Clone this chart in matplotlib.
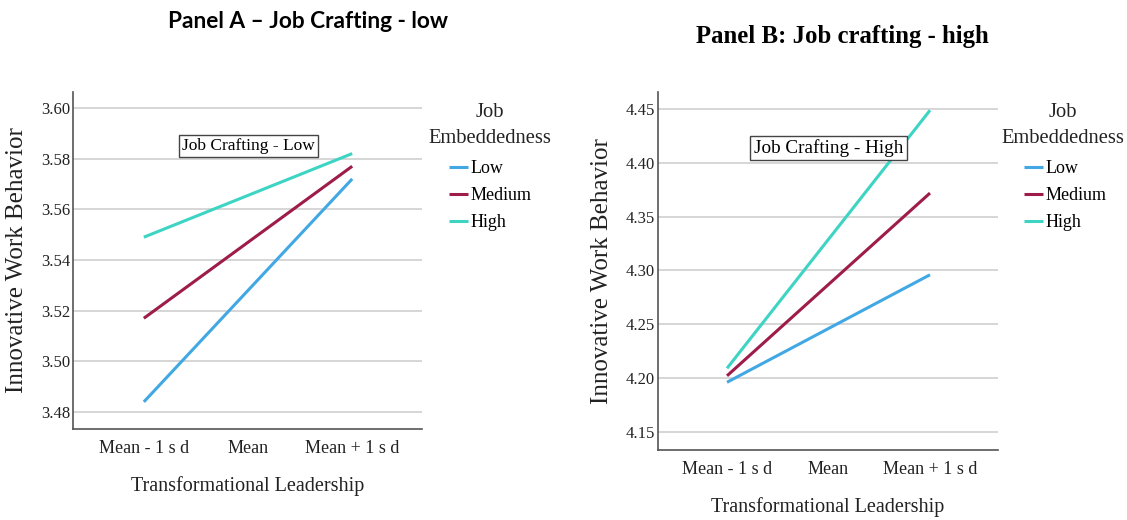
import matplotlib.pyplot as plt

# -----------------------------------------------------------------------------
# Data
x_labels = ['Mean - 1 s d', 'Mean', 'Mean + 1 s d']
groups = ['Low', 'Medium', 'High']

a_low = [3.484, 3.528, 3.572]
a_medium = [3.517, 3.547, 3.577]
a_high = [3.549, 3.5655, 3.582]
a_ticks = [3.48, 3.50, 3.52, 3.54, 3.56, 3.58, 3.60]

b_low = [4.196, 4.246, 4.296]
b_medium = [4.202, 4.287, 4.372]
b_high = [4.209, 4.329, 4.449]
b_ticks = [4.15, 4.20, 4.25, 4.30, 4.35, 4.40, 4.45]

colors = ['#42A8E4', '#9E1C4A', '#3DD4C4']
serif = ['Liberation Serif', 'DejaVu Serif']

W, H = 1127, 520
fig = plt.figure(figsize=(W / 100, H / 100), dpi=100)


def px_axes(left, top, right, bottom):
    return fig.add_axes([left / W, 1 - bottom / H, (right - left) / W, (bottom - top) / H])


def draw_panel(ax, series, ticks, ylim, note, note_y, note_size, title_x, leg_x):
    for vals, name, c in zip(series, groups, colors):
        ax.plot(range(len(x_labels)), vals, color=c, lw=2.2, label=name,
                solid_capstyle='butt')
    ax.set_xlim(-0.68, 2.67)
    ax.set_ylim(*ylim)
    ax.set_yticks(ticks)
    ax.set_yticklabels([f'{t:.2f}' for t in ticks], family=serif, fontsize=12)
    ax.set_xticks(range(len(x_labels)))
    ax.set_xticklabels(x_labels, family=serif, fontsize=13)
    ax.tick_params(length=0, colors='#222222')
    ax.tick_params(axis='x', pad=8)
    ax.tick_params(axis='y', pad=2)
    ax.grid(axis='y', color='#cfcfcf', lw=1.2)
    ax.set_axisbelow(True)
    for s in ['top', 'right']:
        ax.spines[s].set_visible(False)
    for s in ['left', 'bottom']:
        ax.spines[s].set_color('#555555')
        ax.spines[s].set_linewidth(1.2)
    ax.set_xlabel('Transformational Leadership', family=serif, fontsize=14.5,
                  labelpad=14, color='#222222')
    ax.set_ylabel('Innovative Work Behavior', family=serif, fontsize=18,
                  labelpad=9, color='#222222')
    ax.text(1, note_y, note, family=serif, fontsize=note_size, ha='center', va='center',
            bbox=dict(boxstyle='square,pad=0.18', fc='white', ec='#444444', lw=1))

    # legend title drawn on its own so the gap above the entries matches
    fig.text(title_x / W, 1 - 125.5 / H, 'Job\nEmbeddedness', family=serif, fontsize=14.8,
             ha='center', va='center', multialignment='center', linespacing=1.47,
             color='#222222')
    ax.legend(loc='upper left', bbox_to_anchor=(leg_x / W, 1 - 160 / H),
              bbox_transform=fig.transFigure, frameon=False,
              prop={'family': serif, 'size': 13},
              handlelength=1.05, handletextpad=0.15, labelspacing=0.55,
              borderpad=0, borderaxespad=0)


ax_a = px_axes(73, 92, 422, 429)
draw_panel(ax_a, [a_low, a_medium, a_high], a_ticks, (3.4733, 3.6063),
           'Job Crafting - Low', 3.585, 12.5, 490, 449)

ax_b = px_axes(658, 92, 998, 450)
draw_panel(ax_b, [b_low, b_medium, b_high], b_ticks, (4.133, 4.466),
           'Job Crafting - High', 4.414, 13.8, 1063, 1024)

fig.text(308 / W, 1 - 22 / H, 'Panel A \u2013 Job Crafting - low', ha='center', va='center',
         family=['Lato', 'DejaVu Sans'], fontweight='bold', fontsize=16.3)
fig.text(842 / W, 1 - 36 / H, 'Panel B: Job crafting - high', ha='center', va='center',
         family=serif, fontweight='bold', fontsize=17.8)

fig.savefig('out.png', dpi=100)
